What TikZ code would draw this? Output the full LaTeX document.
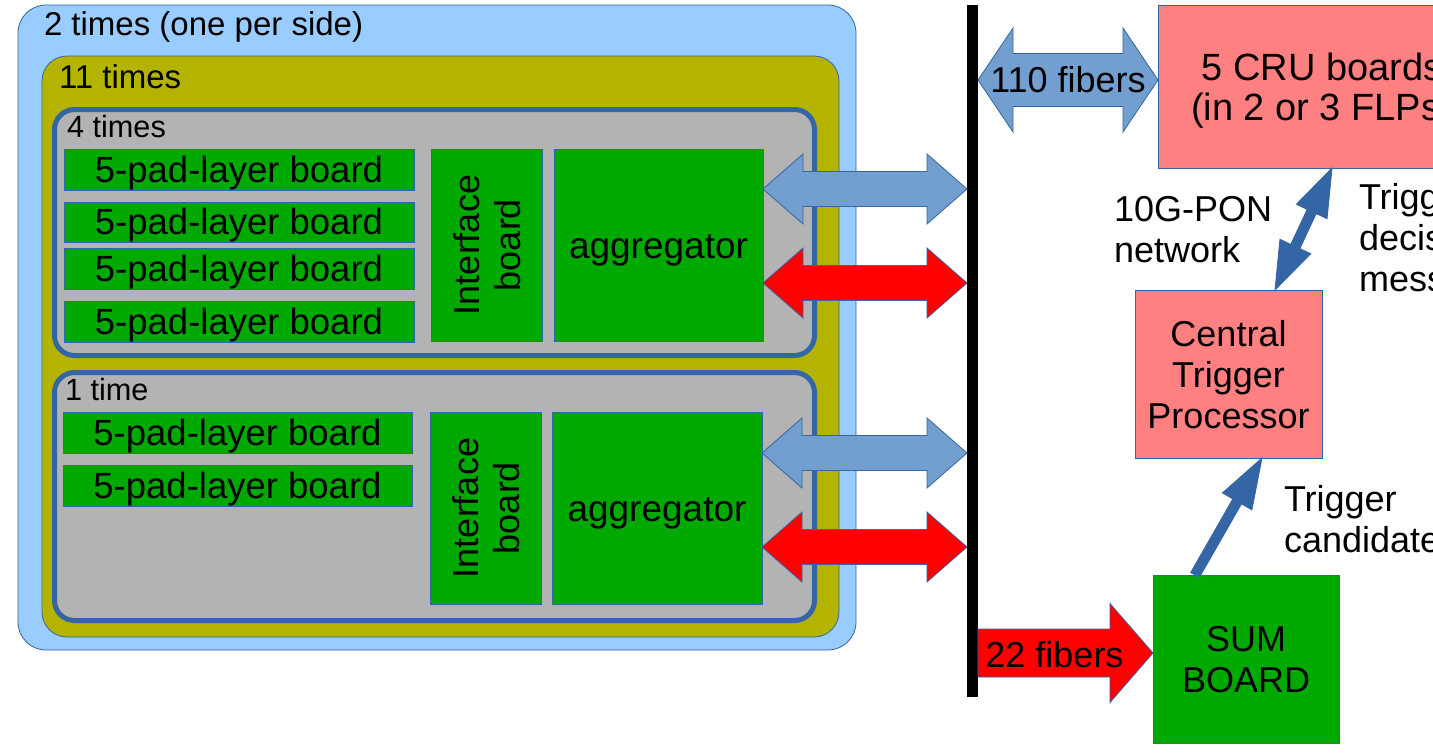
\documentclass[tikz,border=0pt]{standalone}
\usepackage{fontspec}
\setmainfont{Liberation Sans}
\usetikzlibrary{calc}
\definecolor{ltblue}{HTML}{99CCFF}
\definecolor{olivebg}{HTML}{B3B300}
\definecolor{grayb}{HTML}{B3B3B3}
\definecolor{boardgreen}{HTML}{00A900}
\definecolor{bordblue}{HTML}{3465A4}
\definecolor{arrblue}{HTML}{729FCF}
\definecolor{pinkc}{HTML}{FF8080}
\newcommand\fntL{\fontsize{36}{41}\selectfont}
\newcommand\fntC{\fontsize{38}{40}\selectfont}
\newcommand\fntA{\fontsize{37}{42}\selectfont}
\newcommand\fntP{\fontsize{36.5}{41}\selectfont}
\newcommand\fntH{\fontsize{33}{38}\selectfont}
\newcommand\fntS{\fontsize{30.7}{35}\selectfont}
% #1 style, #2 A, #3 B, #4 shaft half, #5 head half, #6 head length
\newcommand\dblarrow[6]{%
 \path[#1] (#2) -- ($(#2)!#6!(#3)!#5!90:(#3)$) -- ($(#2)!#6!(#3)!#4!90:(#3)$)
  -- ($(#3)!#6!(#2)!#4!-90:(#2)$) -- ($(#3)!#6!(#2)!#5!-90:(#2)$) -- (#3)
  -- ($(#3)!#6!(#2)!#5!90:(#2)$) -- ($(#3)!#6!(#2)!#4!90:(#2)$)
  -- ($(#2)!#6!(#3)!#4!-90:(#3)$) -- ($(#2)!#6!(#3)!#5!-90:(#3)$) -- cycle;}
\newcommand\sglarrow[6]{%
 \path[#1] ($(#2)!#4!90:(#3)$) -- ($(#3)!#6!(#2)!#4!-90:(#2)$) -- ($(#3)!#6!(#2)!#5!-90:(#2)$)
  -- (#3) -- ($(#3)!#6!(#2)!#5!90:(#2)$) -- ($(#3)!#6!(#2)!#4!90:(#2)$)
  -- ($(#2)!#4!-90:(#3)$) -- cycle;}
\tikzset{
  bx/.style={draw=bordblue, line width=0.8pt, inner sep=0pt, outer sep=0pt,
    anchor=north west, align=center, text depth=0pt},
  grn/.style={bx, fill=boardgreen},
  pink/.style={bx, fill=pinkc},
  lbl/.style={inner sep=0pt, outer sep=0pt, text depth=0pt},
  pad/.style={grn, font=\fntP, text height=25.5pt, minimum width=350pt, minimum height=41pt},
  grp/.style={bx, fill=grayb, line width=5pt, rounded corners=20pt, minimum width=760pt},
  ablue/.style={fill=arrblue, draw=bordblue, line width=0.8pt},
  ared/.style={fill=red, draw=bordblue, line width=0.8pt},
  adark/.style={fill=bordblue, draw=bordblue, line width=0.8pt},
}
\begin{document}
\begin{tikzpicture}[x=1pt,y=-1pt]
\useasboundingbox (0,0) rectangle (1433,755);
\clip (0,0) rectangle (1433,755);
\fill[white] (0,0) rectangle (1433,755);

% containers
\node[bx, fill=ltblue, rounded corners=28pt, minimum width=838pt, minimum height=645pt] (side) at (18,5) {};
\node[lbl, anchor=base west, font=\fntH] (sidel) at (44,35) {2 times (one per side)};
\node[bx, fill=olivebg, rounded corners=25pt, minimum width=797pt, minimum height=581pt] (stack) at (42,56) {};
\node[lbl, anchor=base west, font=\fntH] (stackl) at (59,88) {11 times};

\node[grp, minimum height=246pt] (grp1) at (54.5,109.5) {};
\node[lbl, anchor=base west, font=\fntS] (grp1l) at (67,137) {4 times};
\node[grp, minimum height=248pt] (grp2) at (54.5,372.5) {};
\node[lbl, anchor=base west, font=\fntS] (grp2l) at (65,400) {1 time};

% group 1 boards
\node[pad] (p11) at (64,149) {5-pad-layer board};
\node[pad, minimum height=40pt] (p12) at (64,202) {5-pad-layer board};
\node[pad] (p13) at (64,248) {5-pad-layer board};
\node[pad] (p14) at (64,301) {5-pad-layer board};
\node[grn, minimum width=111pt, minimum height=192pt] (if1) at (431,149) {};
\node[lbl, font=\fntL, align=center, rotate=90] (if1t) at (if1.center) {Interface\\board};
\node[grn, font=\fntA, text height=26.5pt, minimum width=209pt, minimum height=192pt] (agg1) at (554,149) {aggregator};

% group 2 boards
\node[pad, minimum width=349pt] (p21) at (63,412) {5-pad-layer board};
\node[pad, minimum width=349pt] (p22) at (63,465) {5-pad-layer board};
\node[grn, minimum width=111pt, minimum height=192pt] (if2) at (430,412) {};
\node[lbl, font=\fntL, align=center, rotate=90] (if2t) at (if2.center) {Interface\\board};
\node[grn, font=\fntA, text height=26.5pt, minimum width=210pt, minimum height=192pt] (agg2) at (552,412) {aggregator};

% bar
\node[fill=black, inner sep=0pt, outer sep=0pt, minimum width=11pt, minimum height=692pt, anchor=north west] (bar) at (967,5) {};

% right side
\node[pink, font=\fntC, minimum width=328pt, minimum height=163pt] (cru) at (1158,5) {5 CRU boards\\(in 2 or 3 FLPs)};
\node[pink, font=\fntL, minimum width=187pt, minimum height=168pt] (ctp) at (1135,290) {Central\\Trigger\\Processor};
\node[grn, font=\fntL, minimum width=186pt, minimum height=168pt] (sum) at (1153,575) {SUM\\BOARD};

\node[lbl, font=\fntL, align=left, anchor=south west] (pon) at (1114,262) {10G-PON\\network};
\node[lbl, font=\fntL, align=left, anchor=south west] (tdm) at (1359,291) {Trigger\\decision\\messages};
\node[lbl, font=\fntL, align=left, anchor=south west] (tcand) at (1284,552) {Trigger\\candidates};

% aggregator arrows
\coordinate (b1s) at ($(agg1.north east)+(0,40)$);
\coordinate (b1e) at (bar.west |- b1s);
\coordinate (r1s) at ($(agg1.north east)+(0,134)$);
\coordinate (r1e) at (bar.west |- r1s);
\coordinate (b2s) at ($(agg2.north east)+(0,41)$);
\coordinate (b2e) at (bar.west |- b2s);
\coordinate (r2s) at ($(agg2.north east)+(0,135)$);
\coordinate (r2e) at (bar.west |- r2s);
\dblarrow{ablue}{b1s}{b1e}{17.5pt}{35pt}{40pt}
\dblarrow{ared}{r1s}{r1e}{17.5pt}{35pt}{40pt}
\dblarrow{ablue}{b2s}{b2e}{17.5pt}{35pt}{40pt}
\dblarrow{ared}{r2s}{r2e}{17.5pt}{35pt}{40pt}

% fibers
\coordinate (f1e) at ($(cru.north west)+(0,75)$);
\coordinate (f1s) at (bar.east |- f1e);
\dblarrow{ablue}{f1s}{f1e}{26.5pt}{52pt}{35pt}
\node[lbl, font=\fntL, text height=25.8pt] (f110) at ($(f1s)!0.5!(f1e)$) {110 fibers};

\coordinate (f2e) at ($(sum.north west)+(0,78)$);
\coordinate (f2s) at (bar.east |- f2e);
\sglarrow{ared}{f2s}{f2e}{24pt}{49.5pt}{43pt}
\node[lbl, font=\fntL, text height=25.8pt] (f22) at ($($(f2s)!0.5!(f2e)$)+(-11,2)$) {22 fibers};

% trigger arrows
\coordinate (d1) at ($(cru.south west)+(174,0)$);
\coordinate (d2) at ($(ctp.north west)+(140,0)$);
\dblarrow{adark}{d1}{d2}{5pt}{17pt}{48pt}
\coordinate (s1) at ($(sum.north west)+(42,0)$);
\coordinate (s2) at ($(ctp.south west)+(127,0)$);
\sglarrow{adark}{s1}{s2}{5pt}{17pt}{50pt}
\end{tikzpicture}
\end{document}
